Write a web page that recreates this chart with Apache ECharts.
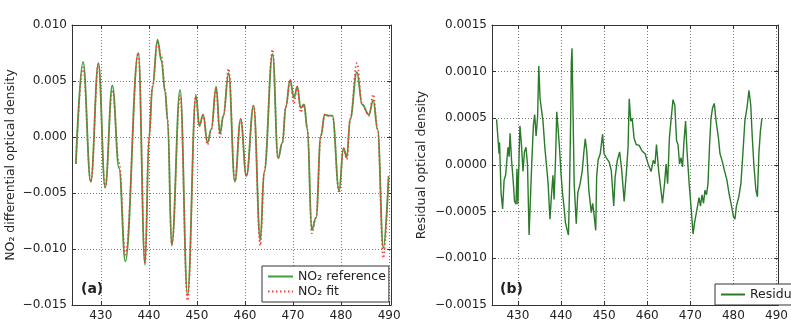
<!DOCTYPE html>
<html>
<head>
    <meta charset="utf-8">
    <title>NO2 fit and residual</title>
    <script src="https://cdnjs.cloudflare.com/ajax/libs/echarts/6.0.0/echarts.min.js"></script>
    <style>
        html, body { margin: 0; padding: 0; background: #fff; }
        #chart { width: 791px; height: 322px; }
    </style>
</head>
<body>
    <div id="chart"></div>
    <script>
        // panel (a): wavelength (nm) and differential optical density
        const leftWave = [424.8, 426.3, 427.9, 429.5, 430.9, 432.4, 433.8, 435.1, 437.8, 439.2,
            440.05, 440.75, 441.8, 442.6, 443.4, 443.9, 444.75, 446.5, 448.05, 449.8,
            450.5, 451.3, 452.2, 453.0, 454.0, 454.8, 455.5, 456.6, 457.9, 459.1,
            460.3, 461.8, 463.2, 464.0, 465.75, 466.9, 467.8, 468.5, 469.4, 470.2,
            470.9, 471.6, 472.3, 473.0, 473.9, 474.8, 475.8, 476.6, 477.4, 478.2,
            479.6, 480.5, 481.2, 481.9, 483.3, 484.4, 485.8, 486.7, 487.6, 488.8, 489.9];
        const no2Ref = [-0.0024, 0.0067, -0.0040, 0.0066, -0.0045, 0.0046, -0.0028, -0.0111, 0.0075, -0.0114,
            0.0000, 0.0045, 0.0087, 0.0068, 0.0040, 0.0015, -0.0097, 0.0042, -0.0141, 0.0037,
            0.0010, 0.0020, -0.0005, 0.0007, 0.0045, 0.0003, 0.0019, 0.0057, -0.0040, 0.0016,
            -0.0035, 0.0028, -0.0092, -0.0031, 0.0074, -0.0019, -0.0005, 0.0027, 0.0051, 0.0035,
            0.0045, 0.0026, 0.0029, 0.0007, -0.0083, -0.0072, 0.0001, 0.0020, 0.0019, 0.0019,
            -0.0048, -0.0010, -0.0018, 0.0016, 0.0058, 0.0029, 0.0020, 0.0033, 0.0007, -0.0099, -0.0035];
        const no2Fit = [-0.0024, 0.0062, -0.0040, 0.0065, -0.0045, 0.0042, -0.0023, -0.0105, 0.0075, -0.0112,
            0.0000, 0.0045, 0.0084, 0.0072, 0.0042, 0.0015, -0.0096, 0.0037, -0.0146, 0.0038,
            0.0010, 0.0020, -0.0007, 0.0007, 0.0043, 0.0000, 0.0019, 0.0061, -0.0039, 0.0016,
            -0.0035, 0.0028, -0.0097, -0.0031, 0.0078, -0.0019, -0.0005, 0.0027, 0.0051, 0.0030,
            0.0045, 0.0022, 0.0029, 0.0007, -0.0086, -0.0072, 0.0001, 0.0020, 0.0019, 0.0019,
            -0.0050, -0.0010, -0.0020, 0.0016, 0.0066, 0.0029, 0.0019, 0.0038, 0.0007, -0.0108, -0.0035];

        // panel (b): wavelength (nm) and residual optical density
        const resWave = [425.06, 425.42, 425.63, 425.75, 426.10, 426.46, 426.81, 427.15, 427.50, 427.71,
            427.98, 428.19, 428.54, 428.90, 429.23, 429.58, 429.79, 430.00, 430.27, 430.48,
            430.83, 431.19, 431.52, 431.88, 432.23, 432.6, 433.19, 433.60, 433.90, 434.23,
            434.58, 434.85, 435.15, 435.48, 435.83, 436.25, 436.67, 437.02, 437.44, 437.77,
            438.13, 438.40, 438.75, 439.02, 439.31, 439.65, 440.00, 440.35, 440.69, 441.04,
            441.40, 441.73, 441.94, 442.23, 442.40, 442.56, 443.06, 443.54, 443.90, 444.44,
            444.94, 445.27, 445.63, 445.98, 446.46, 447.02, 447.35, 447.71, 448.06, 448.27,
            448.60, 449.10, 449.65, 450.00, 450.48, 451.19, 451.67, 452.23, 452.56, 453.06,
            453.60, 454.10, 454.65, 455.15, 455.56, 455.83, 456.19, 456.52, 456.94, 457.44,
            458.13, 458.81, 459.52, 460.21, 460.90, 461.40, 461.81, 462.15, 462.65, 463.19,
            463.54, 464.02, 464.38, 464.73, 465.15, 465.56, 465.98, 466.40, 466.81, 467.15,
            467.50, 467.85, 468.19, 468.54, 468.90, 469.23, 469.73, 470.27, 470.63, 470.98,
            471.52, 472.02, 472.35, 472.71, 473.06, 473.40, 473.75, 474.10, 474.44, 474.79,
            475.15, 475.56, 475.98, 476.52, 476.88, 477.35, 477.92, 478.48, 478.96, 479.44,
            480.00, 480.35, 480.69, 481.25, 481.73, 482.23, 482.65, 483.13, 483.60, 484.02,
            484.38, 484.73, 485.21, 485.56, 485.90, 486.25, 486.60];
        const residual = [0.00049, 0.00026, 0.00012, 0.00024, -0.00030, -0.00047, -0.00016, -0.00011, -0.00010, 0.00019,
            0.00009, 0.00034, 0.00005, -0.00016, -0.00039, -0.00042, -0.00004, -0.00042, 0.00008, 0.00042,
            0.00022, -0.00007, 0.00014, 0.00019, 0.00001, -0.00075, -0.00002, 0.00043, 0.00054, 0.00031,
            0.00052, 0.00106, 0.00071, 0.00073, 0.00047, 0.00019, -0.00002, -0.00020, -0.00058, -0.00034,
            -0.00011, -0.00037, 0.00008, 0.00057, 0.00040, 0.00019, -0.00009, -0.00030, -0.00044, -0.00062,
            -0.00069, -0.00075, -0.00034, 0.00043, 0.00110, 0.00125, -0.00020, -0.00063, -0.00030, -0.00020,
            -0.00006, 0.00012, 0.00028, 0.00015, -0.00027, -0.00051, -0.00041, -0.00055, -0.00070, -0.00013,
            0.00005, 0.00012, 0.00033, 0.00012, 0.00008, 0.00003, -0.00006, -0.00044, -0.00013, 0.00005,
            0.00014, -0.00006, -0.00039, -0.00009, 0.00019, 0.00071, 0.00047, 0.00050, 0.00029, 0.00022,
            0.00021, 0.00015, 0.00012, 0.00001, -0.00007, 0.00005, 0.00001, 0.00022, -0.00006, -0.00027,
            -0.00041, -0.00020, 0.00001, -0.00020, 0.00029, 0.00050, 0.00070, 0.00064, 0.00026, 0.00022,
            0.00001, 0.00008, -0.00002, 0.00026, 0.00047, 0.00015, -0.00020, -0.00051, -0.00074, -0.00062,
            -0.00048, -0.00035, -0.00044, -0.00032, -0.00041, -0.00027, -0.00032, -0.00020, 0.00019, 0.00050,
            0.00061, 0.00066, 0.00047, 0.00029, 0.00012, 0.00005, -0.00006, -0.00016, -0.00030, -0.00041,
            -0.00055, -0.00058, -0.00044, -0.00034, -0.00020, 0.00015, 0.00047, 0.00061, 0.00080, 0.00064,
            0.00029, 0.00001, -0.00027, -0.00034, 0.00012, 0.00036, 0.00050];

        const FONT = 'DejaVu Sans';
        const frame = '#333';

        function signed(d) {
            return v => {
                if (Math.abs(v) < 1e-12) v = 0;
                return (v < 0 ? '\u2212' : '') + Math.abs(v).toFixed(d);
            };
        }
        function decade(v) {
            return Math.abs(v - Math.round(v / 10) * 10) < 1e-6 ? String(Math.round(v)) : '';
        }

        function xAxisFor(grid, top) {
            return {
                type: 'value', gridIndex: grid, position: top ? 'top' : 'bottom',
                min: 424, max: 490.4, splitNumber: 7,
                axisLine: { show: true, onZero: false, lineStyle: { color: frame, width: 1 } },
                axisTick: { show: true, inside: true, length: 4, lineStyle: { color: frame } },
                axisLabel: { show: !top, formatter: decade, color: '#222', fontSize: 12, fontFamily: FONT, margin: 5 },
                splitLine: { show: !top, lineStyle: { color: '#777', type: [1, 2], width: 1 } }
            };
        }
        function yAxisFor(grid, right, min, max, step, digits, name, gap) {
            return {
                type: 'value', gridIndex: grid, position: right ? 'right' : 'left',
                min: min, max: max, interval: step,
                name: right ? '' : name, nameLocation: 'middle', nameGap: gap, nameRotate: 90,
                nameTextStyle: { color: '#222', fontSize: 12.5, fontFamily: FONT },
                axisLine: { show: true, onZero: false, lineStyle: { color: frame, width: 1 } },
                axisTick: { show: true, inside: true, length: 4, lineStyle: { color: frame } },
                axisLabel: { show: !right, formatter: signed(digits), color: '#222', fontSize: 12, fontFamily: FONT, margin: 5 },
                splitLine: { show: !right, lineStyle: { color: '#777', type: [1, 2], width: 1 } }
            };
        }

        const chart = echarts.init(document.getElementById('chart'));
        const legendText = { color: '#222', fontSize: 12.5, fontFamily: FONT };
        const noSymbol = { opacity: 0 };
        const option = {
            animation: false,
            backgroundColor: '#fff',
            grid: [
                { left: 72, top: 25, width: 319, height: 286 },
                { left: 492, top: 25, width: 319, height: 286 }
            ],
            xAxis: [xAxisFor(0, false), xAxisFor(0, true), xAxisFor(1, false), xAxisFor(1, true)],
            yAxis: [
                yAxisFor(0, false, -0.015, 0.010, 0.005, 3, 'NO\u2082 differential optical density', 55),
                yAxisFor(0, true, -0.015, 0.010, 0.005, 3, '', 0),
                yAxisFor(1, false, -0.0015, 0.0015, 0.0005, 4, 'Residual optical density', 64),
                yAxisFor(1, true, -0.0015, 0.0015, 0.0005, 4, '', 0)
            ],
            legend: [
                {
                    data: ['NO\u2082 reference', 'NO\u2082 fit'], orient: 'vertical',
                    left: 262, top: 266, itemWidth: 25, itemHeight: 10, itemGap: 2,
                    padding: [4, 3, 4, 5], borderColor: frame, borderWidth: 1, backgroundColor: '#fff',
                    itemStyle: noSymbol, textStyle: legendText, selectedMode: false
                },
                {
                    data: ['Residual'], orient: 'vertical',
                    left: 715, top: 284, itemWidth: 24, itemHeight: 10,
                    padding: [4, 6, 4, 5], borderColor: frame, borderWidth: 1, backgroundColor: '#fff',
                    itemStyle: noSymbol, textStyle: legendText, selectedMode: false
                }
            ],
            graphic: [
                { type: 'text', left: 81, top: 282, style: { text: '(a)', fontSize: 14, fontWeight: 'bold', fontFamily: FONT, fill: '#222' } },
                { type: 'text', left: 500, top: 282, style: { text: '(b)', fontSize: 14, fontWeight: 'bold', fontFamily: FONT, fill: '#222' } }
            ],
            series: [
                {
                    name: 'NO\u2082 reference', type: 'line', xAxisIndex: 0, yAxisIndex: 0,
                    data: leftWave.map((w, i) => [w, no2Ref[i]]),
                    symbol: 'none', smooth: 0.4, smoothMonotone: 'x',
                    lineStyle: { color: '#3f9f3f', width: 1.8 }, itemStyle: { color: '#3f9f3f' }
                },
                {
                    name: 'NO\u2082 fit', type: 'line', xAxisIndex: 0, yAxisIndex: 0,
                    data: leftWave.map((w, i) => [w, no2Fit[i]]),
                    symbol: 'none', smooth: 0.4, smoothMonotone: 'x',
                    lineStyle: { color: '#ff3b3b', width: 1.6, type: [1.5, 2.5] }, itemStyle: { color: '#ff3b3b' }
                },
                {
                    name: 'Residual', type: 'line', xAxisIndex: 2, yAxisIndex: 2,
                    data: resWave.map((w, i) => [w, residual[i]]),
                    symbol: 'none',
                    lineStyle: { color: '#2a7a2a', width: 1.4 }, itemStyle: { color: '#2a7a2a' }
                }
            ]
        };
        chart.setOption(option);
    </script>
</body>
</html>
